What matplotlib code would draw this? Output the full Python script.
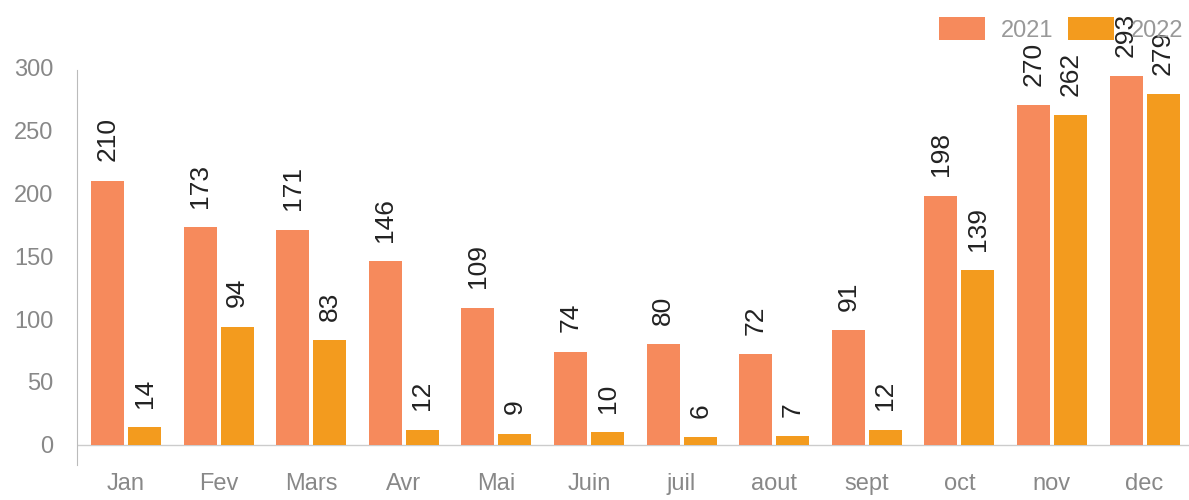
import numpy as np
import matplotlib.pyplot as plt

plt.rcParams['font.family'] = ['Liberation Sans', 'DejaVu Sans']

months = ['Jan', 'Fev', 'Mars', 'Avr', 'Mai', 'Juin', 'juil', 'aout', 'sept', 'oct', 'nov', 'dec']
v2021 = [210, 173, 171, 146, 109, 74, 80, 72, 91, 198, 270, 293]
v2022 = [14, 94, 83, 12, 9, 10, 6, 7, 12, 139, 262, 279]

c2021 = '#F68A5C'
c2022 = '#F39B1E'

fig = plt.figure(figsize=(11.89, 5), dpi=100)
ax = fig.add_axes([77 / 1189, 35 / 500, 1 - 77 / 1189, 405 / 500])

x = np.arange(len(months))
w = 0.356
b1 = ax.bar(x - 0.2, v2021, w, color=c2021, label='2021')
b2 = ax.bar(x + 0.2, v2022, w, color=c2022, label='2022')

for bars, vals in ((b1, v2021), (b2, v2022)):
    for b, v in zip(bars, vals):
        ax.annotate(str(v), (b.get_x() + b.get_width() / 2, v), xytext=(0, 14),
                    textcoords='offset points', rotation=90, ha='center', va='bottom',
                    fontsize=19, color='#222222')

ax.set_xlim(-0.53, 11.48)
ax.set_ylim(-16, 306)
ax.set_yticks([0, 50, 100, 150, 200, 250, 300])
ax.set_xticks(x)
ax.set_xticklabels(months)
ax.tick_params(axis='both', length=0, labelsize=17, colors='#888888')
ax.tick_params(axis='y', pad=17)
ax.tick_params(axis='x', pad=6)
for s in ['top', 'right', 'bottom']:
    ax.spines[s].set_visible(False)
ax.spines['left'].set_color('#bbbbbb')
ax.spines['left'].set_linewidth(0.8)
ax.spines['left'].set_bounds(-16, 298)
ax.axhline(0, color='#cccccc', lw=1, zorder=0)

leg = fig.legend(loc='upper right', bbox_to_anchor=(1183 / 1189, 0.965), ncol=2, frameon=False,
                 fontsize=17, handlelength=1.95, handleheight=1.1, columnspacing=0.6,
                 handletextpad=0.7, borderpad=0, borderaxespad=0)
for t in leg.get_texts():
    t.set_color('#999999')

fig.savefig('out.png', dpi=100)
